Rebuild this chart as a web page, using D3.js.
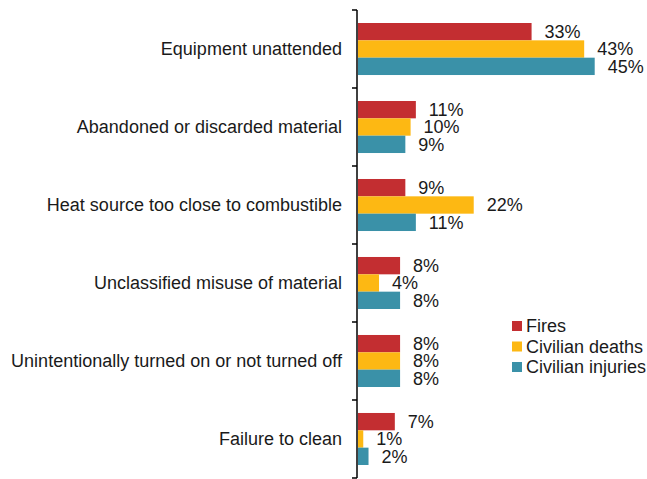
<!DOCTYPE html>
<html>
<head>
<meta charset="utf-8">
<script src="https://cdn.jsdelivr.net/npm/d3@7"></script>
<style>
  body { margin: 0; background: #fff; }
  text { font-family: "Liberation Sans", Arial, sans-serif; fill: #1a1a1a; }
</style>
</head>
<body>
<div class="chart"></div>
<script>
let categories = [
	'Equipment unattended',
	'Abandoned or discarded material',
	'Heat source too close to combustible',
	'Unclassified misuse of material',
	'Unintentionally turned on or not turned off',
	'Failure to clean'
];
let seriesNames = ['Fires', 'Civilian deaths', 'Civilian injuries'];
let fires = [33, 11, 9, 8, 8, 7];
let deaths = [43, 10, 22, 4, 8, 1];
let injuries = [45, 9, 11, 8, 8, 2];
let colors = ['#c32e31', '#fdb813', '#3a91a8'];

let series = [fires, deaths, injuries];

let margin = {top: 10, right: 26, bottom: 1, left: 357};
let width = 647 - margin.left - margin.right;
let height = 479 - margin.top - margin.bottom;

let svg = d3.select('.chart')
	.append('svg')
	.attr('width', 647)
	.attr('height', 479)
	.append('g')
	.attr('transform', 'translate(' + margin.left + ', ' + margin.top + ')');

let yScale = d3.scaleBand()
	.domain(categories)
	.range([0, height])
	.paddingInner(0.333)
	.paddingOuter(0.1667);

let inner = d3.scaleBand()
	.domain(seriesNames)
	.range([0, yScale.bandwidth()]);

let xScale = d3.scaleLinear()
	.domain([0, 50])
	.range([1, 264]);

// axis line with ticks between categories
let tickPos = d3.range(categories.length + 1).map(i => i * height / categories.length);
svg.append('line')
	.attr('x1', 0).attr('x2', 0)
	.attr('y1', 0).attr('y2', height)
	.style('stroke', '#000')
	.style('stroke-width', 1.5);
svg.selectAll('.tick')
	.data(tickPos)
	.enter()
	.append('line')
	.attr('x1', -5).attr('x2', 0)
	.attr('y1', d => d).attr('y2', d => d)
	.style('stroke', '#000')
	.style('stroke-width', 1.5);

svg.selectAll('.cat')
	.data(categories)
	.enter()
	.append('text')
	.attr('x', -15)
	.attr('y', d => yScale(d) + yScale.bandwidth() / 2)
	.attr('dy', '0.35em')
	.attr('text-anchor', 'end')
	.style('font-size', '18px')
	.text(d => d);

series.forEach(function(vals, s) {
	let g = svg.append('g');
	g.selectAll('rect')
		.data(vals)
		.enter()
		.append('rect')
		.attr('x', xScale(0))
		.attr('y', (d, i) => yScale(categories[i]) + inner(seriesNames[s]))
		.attr('width', d => xScale(d) - xScale(0))
		.attr('height', inner.bandwidth())
		.style('fill', colors[s]);
	g.selectAll('text')
		.data(vals)
		.enter()
		.append('text')
		.attr('x', d => xScale(d) + 13)
		.attr('y', (d, i) => yScale(categories[i]) + inner(seriesNames[s]) + inner.bandwidth() / 2)
		.attr('dy', '0.35em')
		.style('font-size', '18px')
		.text(d => d + '%');
});

let legend = svg.append('g')
	.attr('transform', 'translate(155, 316)');
legend.selectAll('rect')
	.data(seriesNames)
	.enter()
	.append('rect')
	.attr('x', 0)
	.attr('y', (d, i) => i * 20.5 - 5)
	.attr('width', 10)
	.attr('height', 10)
	.style('fill', (d, i) => colors[i]);
legend.selectAll('text')
	.data(seriesNames)
	.enter()
	.append('text')
	.attr('x', 14)
	.attr('y', (d, i) => i * 20.5)
	.attr('dy', '0.35em')
	.style('font-size', '18px')
	.text(d => d);
</script>
</body>
</html>
